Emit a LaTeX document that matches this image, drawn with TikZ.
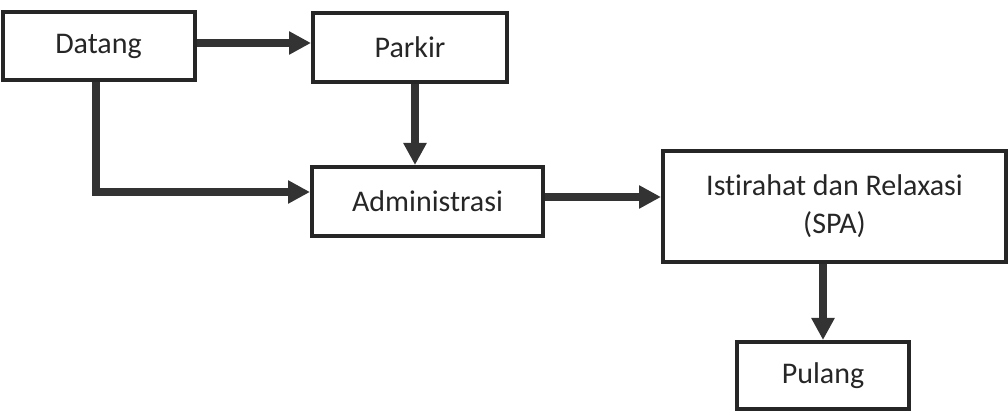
\documentclass[tikz,border=0pt]{standalone}
\usepackage{fontspec}
\setmainfont[Ligatures=CommonOff]{Carlito}
\usepackage{tikz}
\usetikzlibrary{arrows.meta}
\usetikzlibrary{calc}
\tikzset{
  blok/.style={draw=black!85,line width=2pt,rectangle,align=center,
    font=\fontsize{15}{19}\selectfont,text=black!85},
  alur/.style={draw=black!80,line width=4pt,-{Triangle[length=11pt,width=11pt]}}
}

\begin{document}
\begin{tikzpicture}[x=0.5pt,y=-0.5pt]
              \useasboundingbox (0,0) rectangle (1008,411);
              \node[blok,minimum width=96pt,minimum height=34pt] (datang) at (98.5,46) {Datang};
              \node[blok,minimum width=97pt,minimum height=34.5pt] (parkir) at (410,47.5) {Parkir};
              \node[blok,minimum width=115.5pt,minimum height=34.5pt] (admin) at (427.5,201.5) {Administrasi};
              \node[blok,minimum width=171.5pt,minimum height=55.5pt] (spa) at (834.5,206.5) {Istirahat dan Relaxasi\\(SPA)};
              \node[blok,minimum width=86pt,minimum height=33.5pt] (pulang) at (823,375.5) {Pulang};

              \draw[alur] ([yshift=1.5pt]datang.east) -- ([yshift=1.5pt]datang.east -| parkir.west);
              \draw[alur] ([xshift=2.5pt]parkir.south) -- ([xshift=2.5pt]parkir.south |- admin.north);
              \draw[alur] ([xshift=-1.25pt]datang.south) |- ([yshift=4.75pt]admin.west);
              \draw[alur] ([yshift=2.25pt]admin.east) -- ([yshift=2.25pt]admin.east -| spa.west);
              \draw[alur] (spa.south -| pulang.north) -- (pulang.north);
            \end{tikzpicture}
\end{document}
